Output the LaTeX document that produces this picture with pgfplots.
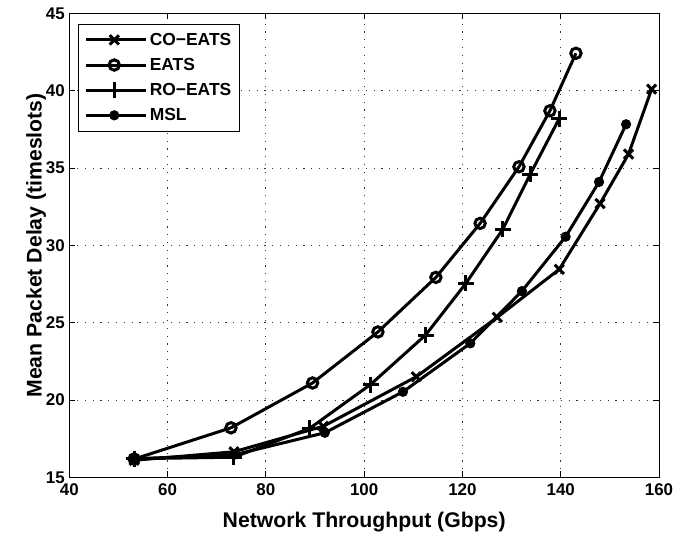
\documentclass[border=0pt]{standalone}
\usepackage{pgfplots}
\pgfplotsset{compat=1.18}
\usepackage{fontspec}
\setmainfont{Liberation Sans}
\begin{document}
\begin{tikzpicture}
\begin{axis}[
  scale only axis,
  width=589.7bp, height=463.9bp,
  xmin=40, xmax=160, ymin=15, ymax=45,
  xtick={40,60,...,160}, ytick={15,20,...,45},
  grid=major,
  major grid style={black!80, line width=0.8bp, dash pattern=on 1.2bp off 6.6bp},
  tick align=inside,
  major tick length=6bp,
  axis line style={line width=0.9bp},
  tick style={black, line width=0.9bp},
  /pgf/number format/assume math mode=true,
  ticklabel style={font=\fontsize{17}{20}\selectfont\bfseries},
  xticklabel style={yshift=-3bp},
  yticklabel style={xshift=-1bp},
  label style={font=\fontsize{21.3}{25}\selectfont\bfseries},
  xlabel style={yshift=-9bp},
  ylabel style={yshift=-7bp},
  xlabel={Network Throughput (Gbps)},
  ylabel={Mean Packet Delay (timeslots)},
  every axis plot/.append style={black, line width=3bp},
  legend cell align=left,
  legend style={at={(0.0153,0.978)}, anchor=north west, draw=black, line width=0.9bp,
    font=\fontsize{17.5}{20}\selectfont\bfseries, row sep=7.5bp, inner xsep=6bp, inner ysep=7bp},
  legend image code/.code={\draw[mark repeat=2,mark phase=2,#1] plot coordinates {(0bp,0bp)(28bp,0bp)(56bp,0bp)};\path (0bp,0bp) -- (60bp,0bp);},
]
\addplot[mark=x, mark size=6.5bp, mark options={solid, line width=3bp}] coordinates {
(53.2,16.1) (73.5,16.65) (91.7,18.3) (110.6,21.5) (127.1,25.35) (139.7,28.45) (148.0,32.7) (153.8,35.9) (158.5,40.1)};
\addlegendentry{CO\textminus EATS}
\addplot[mark=o, mark size=5.2bp, mark options={solid, line width=3bp}] coordinates {
(53.2,16.18) (72.9,18.2) (89.5,21.1) (102.8,24.4) (114.6,27.93) (123.6,31.42) (131.5,35.08) (137.8,38.7) (143.1,42.42)};
\addlegendentry{EATS}
\addplot[mark=+, mark size=8bp, mark options={solid, line width=3bp}] coordinates {
(53.2,16.2) (73.5,16.3) (88.9,18.16) (101.3,21.0) (112.5,24.2) (120.7,27.54) (128.2,31.03) (133.8,34.6) (139.7,38.2)};
\addlegendentry{RO\textminus EATS}
\addplot[mark=*, mark size=4.6bp, mark options={solid, line width=1bp}] coordinates {
(53.2,16.2) (73.5,16.45) (92.0,17.88) (107.9,20.53) (121.6,23.66) (132.1,27.04) (141.0,30.56) (147.8,34.1) (153.3,37.83)};
\addlegendentry{MSL}
\end{axis}
\path ([shift={(-69.3bp,-55.7bp)}]current axis.south west) rectangle ([shift={(30bp,13.4bp)}]current axis.north east);
\end{tikzpicture}
\end{document}
